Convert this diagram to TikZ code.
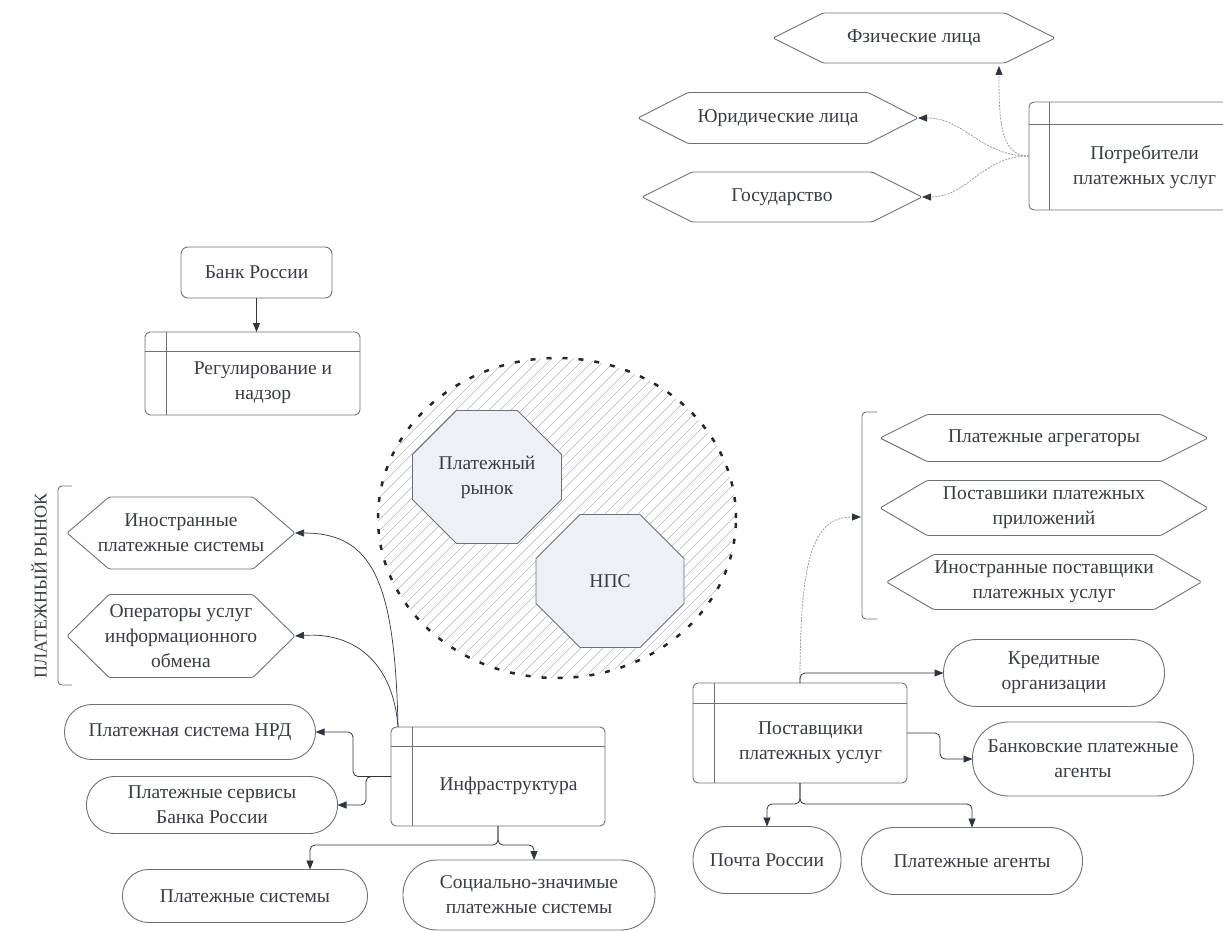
\documentclass[tikz,border=0pt]{standalone}
\usepackage{fontspec}
\setmainfont{Liberation Serif}
\newfontfamily\timesfont{Liberation Serif}
\usetikzlibrary{arrows.meta,calc,fit,shapes.geometric}
\definecolor{txtc}{HTML}{383D45}
\definecolor{linec}{HTML}{6C727A}
\definecolor{arrc}{HTML}{2E3440}
\definecolor{octfill}{HTML}{EEF0F5}
\definecolor{hatchc}{HTML}{B4B8BE}
\definecolor{dashc}{HTML}{9A9EA4}
\tikzset{
 txt/.style={font=\fontsize{19.5}{25}\selectfont, text=txtc, align=center, inner sep=0pt, outer sep=0pt},
 shapeline/.style={draw=linec, line width=0.9pt},
 boxshape/.style={shapeline, rounded corners=5pt, inner sep=0pt, outer sep=0pt},
 stadium/.style={txt, shapeline, rounded corners=#1},
 arr/.style={draw=arrc, line width=0.8pt, rounded corners=5pt, -{Triangle[length=9pt,width=7pt]}},
 carr/.style={draw=arrc, line width=0.7pt, -{Triangle[length=9pt,width=7pt]}},
 darr/.style={draw=dashc, line width=0.8pt, dash pattern=on 2pt off 1.2pt, -{Triangle[length=9pt,width=7pt,color=arrc,fill=arrc]}},
 octs/.style={shapeline, fill=octfill},
}
% hexagon: name, cx, cy, w, h, slant, text
\newcommand\hexbox[7]{%
  \node[txt, minimum width=#4pt, minimum height=#5pt] (#1) at (#2,#3) {#7};
  \draw[shapeline, rounded corners=1.5pt] (#1.west) -- ([xshift=#6pt]#1.north west) -- ([xshift=-#6pt]#1.north east) -- (#1.east) -- ([xshift=-#6pt]#1.south east) -- ([xshift=#6pt]#1.south west) -- cycle;
}
% swimlane box: name, x0, y0, x1, y1, left column, header, text
\newcommand\swimbox[8]{%
  \node[boxshape, fit={(#2,#3) (#4,#5)}] (#1) {};
  \draw[shapeline] ($(#1.north west)+(#6,0)$) -- ($(#1.south west)+(#6,0)$);
  \draw[shapeline] ($(#1.north west)+(0,#7)$) -- ($(#1.north east)+(0,#7)$);
  \node[txt] (#1-t) at ($(#1.center)+(#6/2,#7/2)$) {#8};
}
% octagon: name, cx, cy, half w, half h, chamfer, text
\newcommand\octnode[7]{%
  \filldraw[octs] (#2-#4,#3-#5+#6) -- (#2-#4+#6,#3-#5) -- (#2+#4-#6,#3-#5) -- (#2+#4,#3-#5+#6) -- (#2+#4,#3+#5-#6) -- (#2+#4-#6,#3+#5) -- (#2-#4+#6,#3+#5) -- (#2-#4,#3+#5-#6) -- cycle;
  \node[txt] (#1) at (#2,#3) {#7};
}
\begin{document}
\begin{tikzpicture}[x=1pt,y=-1pt]
\useasboundingbox (0,0) rectangle (1223,931);
\fill[white] (0,0) rectangle (1223,931);
\clip (0,0) rectangle (1223,931);

% ---------- hatched circle ----------
\coordinate (cc) at (557,518);
\begin{scope}
  \clip (cc) ellipse [x radius=179pt, y radius=160pt];
  \foreach \k in {-36,...,36}
    \draw[hatchc, line width=0.6pt] ($(cc)+(\k*11-190,190)$) -- ($(cc)+(\k*11+190,-190)$);
\end{scope}
\draw[black!85, line width=2.5pt, dash pattern=on 5pt off 11pt] (cc) ellipse [x radius=179pt, y radius=160pt];
\octnode{rynok}{487}{477}{74.5}{66.5}{44}{Платежный\\рынок}
\octnode{nps}{610}{581}{74}{66.5}{44}{НПС}

% ---------- top right ----------
\hexbox{fz}{914}{38}{282}{50}{50}{Фзические лица}
\hexbox{yur}{778}{118}{280}{51}{50}{Юридические лица}
\hexbox{gos}{782}{197}{280}{50}{50}{Государство}
\swimbox{potr}{1029}{102}{1240}{210}{20}{22}{Потребители\\платежных услуг}
\coordinate (fzb) at ($(fz.south east)+(-56,3)$);
\draw[darr] (potr.west) .. controls (1000,156) and (999,120) .. (fzb);
\draw[darr] (potr.west) .. controls (980,156) and (965,118) .. (yur.east);
\draw[darr] (potr.west) .. controls (982,156) and (968,197) .. (gos.east);

% ---------- Bank of Russia ----------
\node[stadium=7pt, minimum width=151pt, minimum height=51pt] (cbr) at (256.5,272.5) {Банк России};
\swimbox{reg}{145}{332}{360}{415}{21}{19}{Регулирование и\\надзор}
\draw[arr] (cbr.south) -- (cbr.south |- reg.north);

% ---------- left: payment market ----------
\node[rotate=90, font=\timesfont\fontsize{18}{20}\selectfont, text=txtc, inner sep=0pt] (prl) at (39,586) {ПЛАТЕЖНЫЙ РЫНОК};
\draw[shapeline, rounded corners=4pt] (72,486) -- (58,486) -- (58,685) -- (72,685);
\hexbox{ino}{181}{533}{228}{72}{42}{Иностранные\\платежные системы}
\hexbox{oper}{181}{636}{228}{83}{42}{Операторы услуг\\информационного\\обмена}

% ---------- infrastructure ----------
\swimbox{infra}{391}{727}{605}{826}{21}{19}{Инфраструктура}
\node[stadium=27pt, minimum width=251pt, minimum height=55pt] (nrd) at (190,732) {Платежная система НРД};
\node[stadium=28pt, minimum width=251pt, minimum height=57pt] (serv) at (212,805) {Платежные сервисы\\Банка России};
\node[stadium=26pt, minimum width=245pt, minimum height=53pt] (ps) at (245,896) {Платежные системы};
\node[stadium=34pt, minimum width=252pt, minimum height=70pt] (soc) at (529,895) {Социально-значимые\\платежные системы};
\coordinate (is) at ($(infra.north west)+(7,0)$);
\draw[carr] (is) .. controls (395,580) and (372,533) .. (ino.east);
\draw[carr] (is) .. controls (393,660) and (352,632) .. (oper.east);
\draw[arr] (infra.west) -- ++(-38,0) |- (nrd.east);
\draw[arr] (infra.west) -- ++(-25,0) |- (serv.east);
\draw[arr] (infra.south) -- ++(0,19) -| ($(ps.north)+(65,0)$);
\draw[arr] (infra.south) -- ++(0,19) -| ($(soc.north)+(5,0)$);

% ---------- right: providers ----------
\draw[shapeline, rounded corners=4pt] (877,412) -- (862,412) -- (862,619) -- (877,619);
\coordinate (brr) at (861,517);
\hexbox{agr}{1044}{438}{328}{47}{47}{Платежные агрегаторы}
\hexbox{pril}{1044}{508}{328}{55}{47}{Поставшики платежных\\приложений}
\hexbox{inop}{1044}{582}{315}{55}{47}{Иностранные поставщики\\платежных услуг}
\swimbox{post}{693}{683}{907}{783}{21}{20}{Поставщики\\платежных услуг}
\node[stadium=33pt, minimum width=221pt, minimum height=67pt] (kred) at (1054,673) {Кредитные\\организации};
\node[stadium=36pt, minimum width=221pt, minimum height=74pt] (bpa) at (1083,759) {Банковские платежные\\агенты};
\node[stadium=33pt, minimum width=148pt, minimum height=67pt] (pochta) at (767,860) {Почта России};
\node[stadium=33pt, minimum width=221pt, minimum height=67pt] (pa) at (972,861) {Платежные агенты};
\draw[darr] (post.north) .. controls (800,560) and (812,517) .. (brr);
\draw[arr] (post.north) |- (kred.west);
\draw[arr] (post.east) -- ++(33,0) |- (bpa.west);
\draw[arr] (post.south) -- ++(0,21) -| (pochta.north);
\draw[arr] (post.south) -- ++(0,21) -| (pa.north);
\end{tikzpicture}
\end{document}
